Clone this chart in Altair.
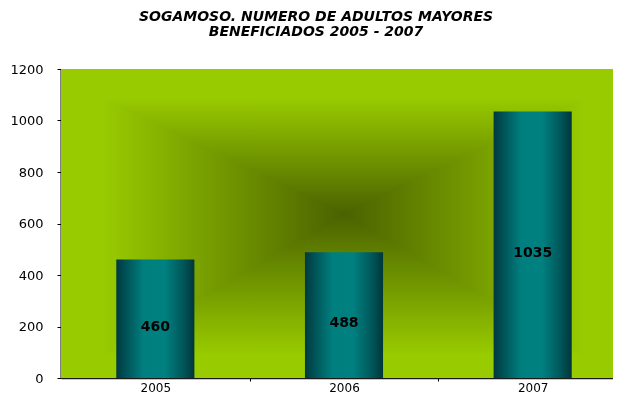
import altair as alt
import pandas as pd

years = ["2005", "2006", "2007"]
values = [460, 488, 1035]
y_ticks = [0, 200, 400, 600, 800, 1000, 1200]
title_lines = ["SOGAMOSO. NUMERO DE ADULTOS MAYORES", "BENEFICIADOS 2005 - 2007"]

W, H = 552, 309
RANGE_W = 566
STEP = RANGE_W / len(years)
LIME = "#99cc00"
DARK = "#4b6200"

df = pd.DataFrame({"year": years, "value": values})

bg_h = alt.Chart(alt.Data(values=[{}])).mark_rect(
    color=alt.Gradient(
        gradient="linear", x1=0, x2=1, y1=0, y2=0,
        stops=[
            alt.GradientStop(offset=0, color=LIME),
            alt.GradientStop(offset=0.07, color=LIME),
            alt.GradientStop(offset=0.5, color=DARK),
            alt.GradientStop(offset=0.93, color=LIME),
            alt.GradientStop(offset=1, color=LIME),
        ],
    )
).encode(x=alt.value(0), x2=alt.value(RANGE_W), y=alt.value(0), y2=alt.value(H))

bg_v = alt.Chart(alt.Data(values=[{}])).mark_rect(
    blend="lighten",
    color=alt.Gradient(
        gradient="linear", x1=0, x2=0, y1=0, y2=1,
        stops=[
            alt.GradientStop(offset=0, color=LIME),
            alt.GradientStop(offset=0.09, color=LIME),
            alt.GradientStop(offset=0.47, color=DARK),
            alt.GradientStop(offset=0.93, color=LIME),
            alt.GradientStop(offset=1, color=LIME),
        ],
    ),
).encode(x=alt.value(0), x2=alt.value(RANGE_W), y=alt.value(0), y2=alt.value(H))

x_enc = alt.X(
    "year:N",
    sort=years,
    title=None,
    scale=alt.Scale(range=[0, RANGE_W], paddingInner=0.586, paddingOuter=0.293),
    axis=alt.Axis(
        labelAngle=0,
        labelFont="DejaVu Sans",
        labelFontSize=12,
        labelColor="#000000",
        labelPadding=1,
        tickOffset=STEP / 2,
        labelOffset=-STEP / 2,
        tickSize=3,
        tickColor="#000000",
        domainColor="#1a1a1a",
        domainWidth=1.5,
    ),
)

bars = alt.Chart(df).mark_bar(
    color=alt.Gradient(
        gradient="linear", x1=0, x2=1, y1=0, y2=0,
        stops=[
            alt.GradientStop(offset=0, color="#003a40"),
            alt.GradientStop(offset=0.35, color="#007f7f"),
            alt.GradientStop(offset=0.62, color="#008080"),
            alt.GradientStop(offset=0.85, color="#00585b"),
            alt.GradientStop(offset=1, color="#00363a"),
        ],
    )
).encode(
    x=x_enc,
    y=alt.Y(
        "value:Q",
        title=None,
        scale=alt.Scale(domain=[0, 1200], nice=False),
        axis=alt.Axis(
            values=y_ticks,
            format="d",
            grid=False,
            labelFont="DejaVu Sans",
            labelFontSize=13,
            labelColor="#000000",
            labelPadding=14,
            tickSize=4,
            tickColor="#000000",
            domainColor="#000000",
            domainWidth=2,
        ),
    ),
)

labels = alt.Chart(df).transform_calculate(
    mid="datum.value / 2"
).mark_text(
    font="DejaVu Sans", fontSize=14, fontWeight="bold", color="#000000", dy=8
).encode(
    x=alt.X("year:N", sort=years),
    y=alt.Y("mid:Q"),
    text=alt.Text("value:Q"),
)

chart = alt.layer(bg_h, bg_v, bars, labels).properties(
    width=W,
    height=H,
    autosize=alt.AutoSizeParams(type="none"),
    padding={"left": 53, "top": 61, "right": 0, "bottom": 15},
    title=alt.TitleParams(
        text=title_lines,
        font="DejaVu Sans",
        fontSize=14,
        fontWeight="bold",
        fontStyle="italic",
        color="#000000",
        anchor="middle",
        dx=-21,
        offset=24,
        lineHeight=15,
    ),
).configure_view(stroke=None)

chart.save("out.html", embed_options={"renderer": "svg", "actions": False})
